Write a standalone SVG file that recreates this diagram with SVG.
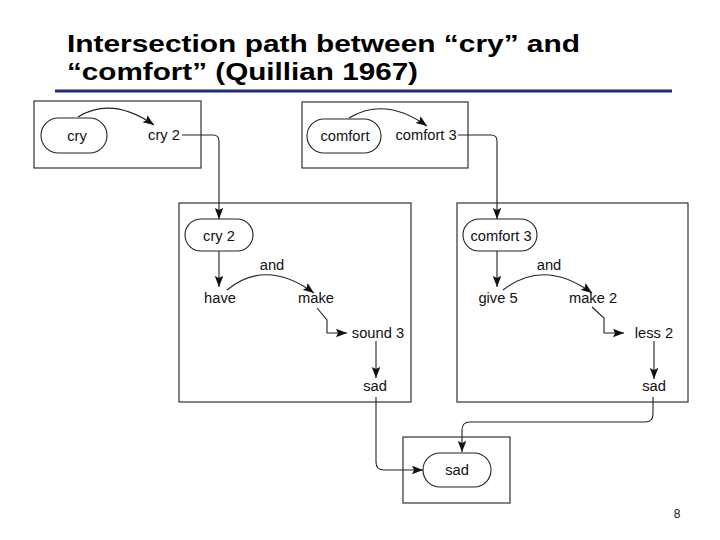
<svg xmlns="http://www.w3.org/2000/svg" width="720" height="540" viewBox="0 0 720 540">
<defs>
<marker id="arr" markerUnits="userSpaceOnUse" markerWidth="12" markerHeight="9" refX="11" refY="4.25" orient="auto">
<path d="M0,0 L11,4.25 L0,8.5 L2,4.25 z" fill="#111"/>
</marker>
<style>
.t{font-family:"Liberation Sans",Arial,sans-serif;font-size:14.7px;fill:#111;text-anchor:middle}
.title{font-family:"Liberation Sans",Arial,sans-serif;font-size:24.5px;font-weight:bold;fill:#000}
.box{fill:#fff;stroke:#333;stroke-width:1.2}
.pill{fill:#fff;stroke:#222;stroke-width:1.1}
.c{fill:none;stroke:#222;stroke-width:1.1}
.a{marker-end:url(#arr)}
</style>
</defs>
<rect width="720" height="540" fill="#fff"/>
<g id="title">
<text class="title" x="67" y="52" textLength="513" lengthAdjust="spacingAndGlyphs">Intersection path between “cry” and</text>
<text class="title" x="67" y="80" textLength="351" lengthAdjust="spacingAndGlyphs">“comfort” (Quillian 1967)</text>
<line x1="55" y1="91" x2="672" y2="91" stroke="#1c2a80" stroke-width="3"/>
</g>
<g id="box-cry">
<rect class="box" x="34" y="101" width="167" height="67"/>
<rect class="pill" x="41" y="118" width="66" height="35" rx="17.5"/>
<text class="t" x="77" y="140.5">cry</text>
<text class="t" x="164" y="140">cry 2</text>
</g>
<g id="box-comfort">
<rect class="box" x="302" y="102" width="166" height="66"/>
<rect class="pill" x="307" y="119" width="74" height="34" rx="17"/>
<text class="t" x="345" y="140.5">comfort</text>
<text class="t" x="426" y="140">comfort 3</text>
</g>
<g id="box-cry2">
<rect class="box" x="179" y="203" width="232" height="199"/>
<rect class="pill" x="185" y="219" width="68" height="32" rx="16"/>
<text class="t" x="219" y="240.5">cry 2</text>
<text class="t" x="220" y="303">have</text>
<text class="t" x="272" y="270">and</text>
<text class="t" x="316" y="303">make</text>
<text class="t" x="378" y="338">sound 3</text>
<text class="t" x="375" y="391">sad</text>
</g>
<g id="box-comfort3">
<rect class="box" x="457" y="203" width="231" height="199"/>
<rect class="pill" x="463" y="219" width="74" height="32" rx="16"/>
<text class="t" x="501" y="240.5">comfort 3</text>
<text class="t" x="498" y="303">give 5</text>
<text class="t" x="549" y="270">and</text>
<text class="t" x="593" y="303">make 2</text>
<text class="t" x="654" y="338">less 2</text>
<text class="t" x="654" y="391">sad</text>
</g>
<g id="box-sad">
<rect class="box" x="403" y="437" width="107" height="66"/>
<rect class="pill" x="423" y="453" width="68" height="34" rx="17"/>
<text class="t" x="457" y="475">sad</text>
</g>
<g id="connectors">
<path class="c a" d="M78,117 Q112,96 154,125"/>
<path class="c a" d="M349,118 Q385,96 427,126"/>
<path class="c a" d="M182,135 H213 Q219,135 219,141 V219"/>
<path class="c a" d="M458,135 H491 Q497,135 497,141 V219"/>
<path class="c a" d="M219,251 V287"/>
<path class="c a" d="M227,290 Q266,258 314,293"/>
<path class="c a" d="M317,308 L327,320 V333 H347"/>
<path class="c a" d="M376,341 V378"/>
<path class="c a" d="M376,397 V462 Q376,470 384,470 H423"/>
<path class="c a" d="M497,251 V287"/>
<path class="c a" d="M503,290 Q544,258 592,293"/>
<path class="c a" d="M592,307 L604,318 V333 H624"/>
<path class="c a" d="M654,341 V379"/>
<path class="c a" d="M653,397 V414 Q653,422 645,422 H470 Q462,422 462,430 V452"/>
</g>
<g id="page-number">
<text x="677" y="518" style="font-family:'Liberation Sans',Arial,sans-serif;font-size:12px;fill:#111;text-anchor:middle">8</text>
</g>
</svg>
